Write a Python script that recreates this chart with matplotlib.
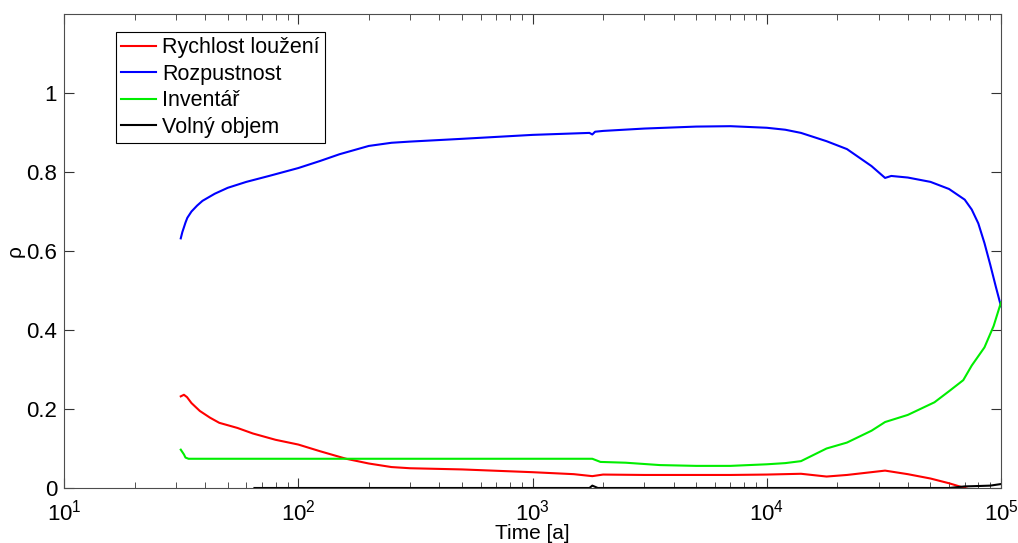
import numpy as np
import matplotlib
matplotlib.use('Agg')
import matplotlib.pyplot as plt
from matplotlib.ticker import LogLocator, NullFormatter

plt.rcParams['font.family'] = ['Liberation Sans', 'DejaVu Sans']
plt.rcParams['mathtext.fontset'] = 'custom'
plt.rcParams['mathtext.rm'] = 'Liberation Sans'
plt.rcParams['mathtext.it'] = 'Liberation Sans:italic'

# Rychlost louzeni (red)
t_red = [31.5, 32.5, 33.5, 35, 38, 42, 46, 55, 64, 80, 100, 124, 160, 200, 250, 300, 500,
         1000, 1500, 1800, 2000, 3000, 7000, 1e4, 1.4e4, 1.8e4, 2.2e4, 3.2e4, 4e4, 5e4,
         6e4, 7e4, 8e4]
v_red = [0.232, 0.236, 0.230, 0.215, 0.195, 0.178, 0.165, 0.152, 0.138, 0.122, 0.110,
         0.093, 0.074, 0.062, 0.053, 0.050, 0.047, 0.040, 0.035, 0.030, 0.034, 0.033,
         0.033, 0.034, 0.036, 0.029, 0.033, 0.044, 0.035, 0.024, 0.012, 0.0, -0.01]

# Rozpustnost (blue)
t_blue = [31.5, 32.0, 32.5, 33.0, 33.6, 35, 37, 39, 44, 50, 60, 75, 100, 124, 150, 200,
          250, 300, 500, 1000, 1750, 1800, 1850, 2000, 3000, 5000, 7000, 1e4, 1.2e4,
          1.4e4, 1.8e4, 2.2e4, 2.8e4, 3.2e4, 3.4e4, 4e4, 5e4, 6e4, 7e4, 7.5e4, 8e4,
          8.5e4, 9e4, 9.5e4, 1e5]
v_blue = [0.632, 0.648, 0.660, 0.672, 0.684, 0.700, 0.715, 0.727, 0.745, 0.760, 0.775,
          0.790, 0.810, 0.828, 0.845, 0.866, 0.874, 0.877, 0.884, 0.894, 0.899, 0.895,
          0.902, 0.904, 0.910, 0.915, 0.916, 0.912, 0.907, 0.899, 0.878, 0.858, 0.815,
          0.785, 0.790, 0.786, 0.775, 0.757, 0.730, 0.705, 0.670, 0.620, 0.565, 0.510,
          0.460]

# Inventar (green)
t_green = [31.5, 32.5, 33, 34, 100, 1000, 1800, 1950, 2500, 3500, 5000, 7000, 1e4, 1.2e4,
           1.4e4, 1.6e4, 1.8e4, 2.2e4, 2.8e4, 3.2e4, 4e4, 5.2e4, 6e4, 6.9e4, 7.5e4, 8.5e4,
           9.3e4, 1e5]
v_green = [0.097, 0.085, 0.077, 0.074, 0.074, 0.074, 0.074, 0.066, 0.064, 0.058, 0.056,
           0.056, 0.060, 0.063, 0.068, 0.085, 0.100, 0.115, 0.145, 0.167, 0.185, 0.217,
           0.245, 0.273, 0.310, 0.356, 0.410, 0.470]

# Volny objem (black)
t_black = [65, 1750, 1800, 1900, 6e4, 7e4, 8e4, 9e4, 1e5]
v_black = [0.0, 0.0, 0.006, 0.0, 0.0, 0.004, 0.005, 0.006, 0.010]

fig = plt.figure(figsize=(10.18, 5.43), dpi=100)
ax = fig.add_axes([0.0629, 0.1013, 0.9204, 0.8729])

ax.plot(t_red, v_red, color='red', lw=1.5, label='Rychlost loužení')
ax.plot(t_blue, v_blue, color='blue', lw=1.5, label='Rozpustnost')
ax.plot(t_green, v_green, color='#00ee00', lw=1.5, label='Inventář')
ax.plot(t_black, v_black, color='black', lw=1.5, label='Volný objem')

ax.set_xscale('log')
ax.set_xlim(10, 1e5)
ax.set_ylim(0, 1.2)
ax.set_yticks([0, 0.2, 0.4, 0.6, 0.8, 1])
ax.set_yticklabels(['0', '0.2', '0.4', '0.6', '0.8', '1'])
ax.xaxis.set_minor_locator(LogLocator(base=10, subs=np.arange(2, 10)))
ax.xaxis.set_minor_formatter(NullFormatter())

ax.tick_params(which='both', direction='in', top=True, right=True, labelsize=16,
               color='0.2')
ax.tick_params(axis='y', pad=5)
ax.tick_params(axis='x', pad=8)
ax.tick_params(which='major', length=7)
ax.tick_params(which='minor', length=4)
for s in ax.spines.values():
    s.set_color('0.3')

ax.set_xlabel('Time [a]', fontsize=15, labelpad=-1)
ax.set_ylabel('ρ', fontsize=15)
ax.yaxis.set_label_coords(-0.042, 0.5)

leg = ax.legend(loc='upper left', bbox_to_anchor=(116/1018, 1 - 32/543),
                bbox_transform=fig.transFigure, borderaxespad=0, fontsize=15.5,
                fancybox=False, framealpha=1, edgecolor='black', borderpad=0.25,
                labelspacing=0.25, handlelength=1.6, handletextpad=0.3)
leg.get_frame().set_linewidth(0.8)

fig.savefig('out.png', dpi=100)
